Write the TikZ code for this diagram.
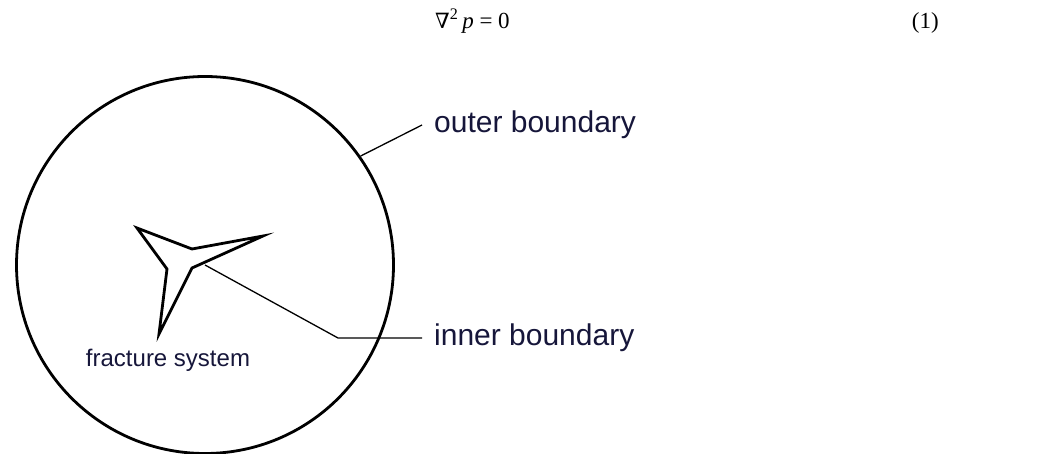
\documentclass[tikz,border=0pt]{standalone}
\usepackage{fontspec}
\setmainfont{Liberation Serif}
\newfontfamily\labelfont{Liberation Sans}
\newfontfamily\nablafont{DejaVu Serif}
\usepackage{xcolor}
\usetikzlibrary{positioning, calc}
\definecolor{labelnavy}{RGB}{22,22,58}

\begin{document}
\begin{tikzpicture}[x=1pt, y=-1pt,
    thickline/.style={line width=2.8pt, line join=miter},
    leader/.style={line width=1.3pt},
    eqtext/.style={font=\fontsize{23}{28}\selectfont, inner sep=0pt},
    bigtag/.style={font=\labelfont\fontsize{30}{34}\selectfont, text=labelnavy, anchor=west, inner xsep=12pt, inner ysep=0pt},
    smalltag/.style={font=\labelfont\fontsize{24}{28}\selectfont, text=labelnavy}]
    \useasboundingbox (0,0) rectangle (1058,454);
    % equation line
    \node[eqtext, anchor=base west] (eq) at (435,29) {{\nablafont\fontsize{21}{26}\selectfont ∇}\textsuperscript{2}\,\textit{p} = 0};
    \node[eqtext, anchor=base east] (eqnum) at (939,29) {(1)};
    % reservoir and fracture
    \node[draw, circle, thickline, minimum size=377pt, inner sep=0pt] (outer) at (205,265) {};
    \draw[thickline] (137,228) -- (192,249) -- (263,236) -- (192,268) -- (159,334) -- (167,269) -- cycle;
    \coordinate (fracedge) at (205,265);
    \node[smalltag] (fraclbl) at (168,360) {fracture system};
    % labels
    \node[bigtag] (outerlbl) at (422,125) {outer boundary};
    \node[bigtag] (innerlbl) at (422,338) {inner boundary};
    \coordinate (bend) at (338,338);
    \draw[leader] (outer.35) -- (outerlbl.west);
    \draw[leader] (fracedge) -- (bend) -- (innerlbl.west);
\end{tikzpicture}
\end{document}
